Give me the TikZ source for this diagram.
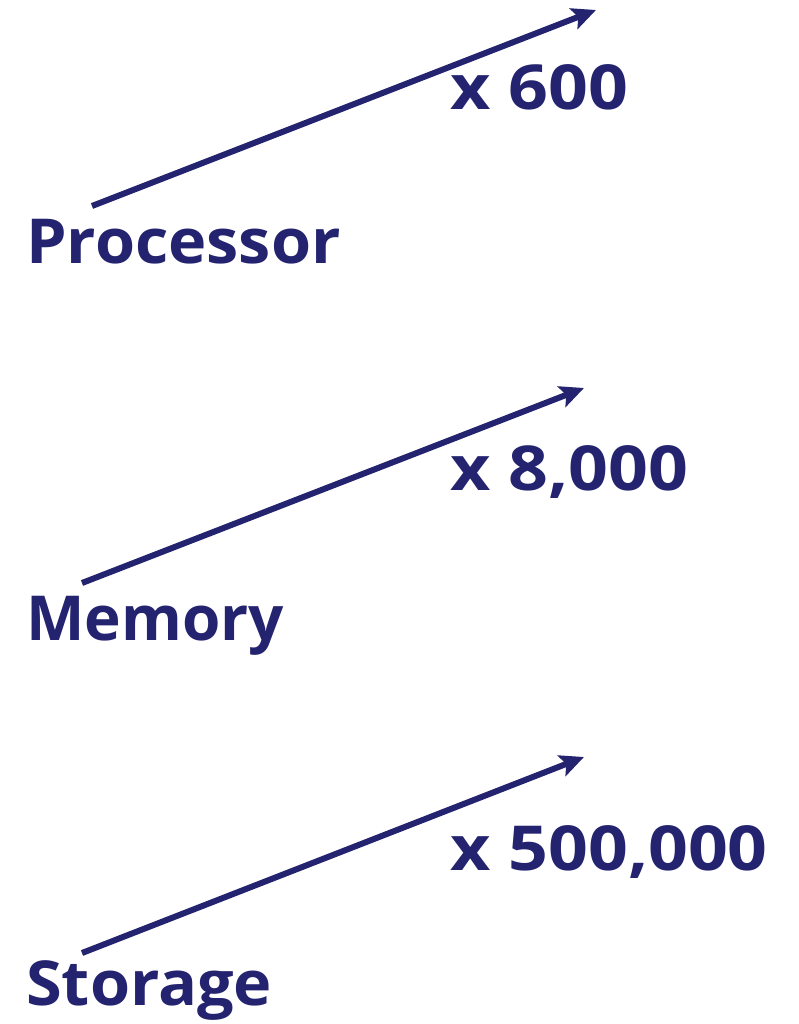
\documentclass[tikz,border=0pt]{standalone}
\usepackage{fontspec}
\setmainfont{Open Sans}
\newfontfamily\wordfont[FakeStretch=1.045]{Open Sans}
\newfontfamily\numfont[FakeStretch=1.125]{Open Sans}
\usetikzlibrary{arrows.meta}
\definecolor{navy}{HTML}{23236F}
\begin{document}
\begin{tikzpicture}[x=1pt,y=-1pt,
  lbl/.style={inner sep=0pt,anchor=base west,text=navy},
  word/.style={lbl,font=\wordfont\fontsize{62}{62}\selectfont\bfseries},
  plainword/.style={lbl,font=\fontsize{62}{62}\selectfont\bfseries},
  factor/.style={lbl,font=\numfont\fontsize{62}{62}\selectfont\bfseries},
  growth/.style={draw=navy,line width=6pt,-{Stealth[length=24pt,width=22pt,inset=5pt]}}]
  \useasboundingbox (0,0) rectangle (799,1024);
  % component names
  \node[word] (proc) at (26,263) {Processor};
  \node[plainword] (mem)  at (26,640) {Memory};
  \node[word] (stor) at (26,1005) {Storage};
  % growth factors
  \node[factor] (fproc) at (450,110) {x 600};
  \node[factor] (fmem)  at (450,490) {x 8,000};
  \node[factor] (fstor) at (450,870) {x 500,000};
  % arrow ends
  \coordinate (p0) at (92,206);  \coordinate (p1) at (596,10);
  \coordinate (m0) at (82,583);  \coordinate (m1) at (584,388);
  \coordinate (s0) at (82,953);  \coordinate (s1) at (584,757);
  \draw[growth] (p0) -- (p1);
  \draw[growth] (m0) -- (m1);
  \draw[growth] (s0) -- (s1);
\end{tikzpicture}
\end{document}
